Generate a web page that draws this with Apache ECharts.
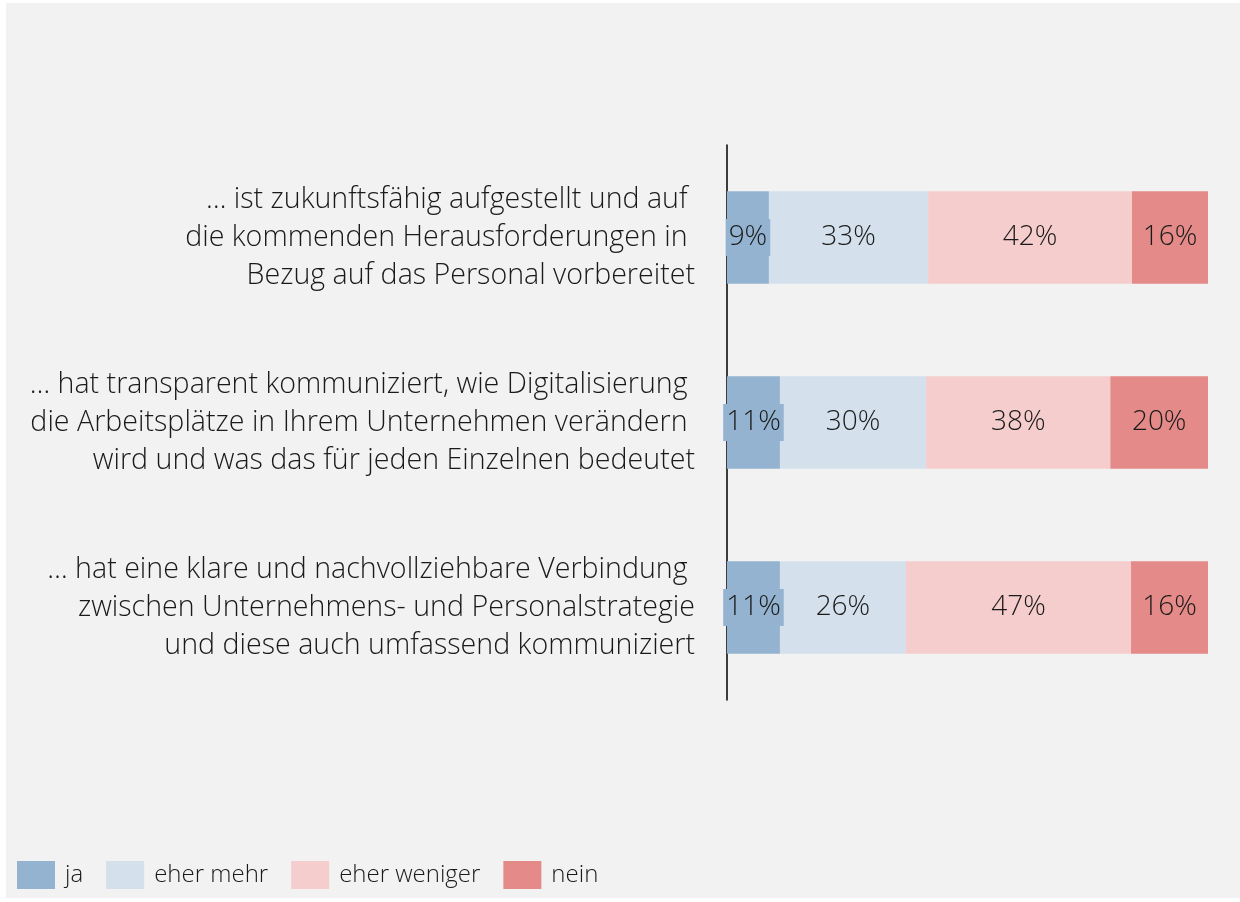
<!DOCTYPE html>
<html>
<head>
<meta charset="utf-8">
<script src="https://cdn.jsdelivr.net/npm/echarts@6/dist/echarts.min.js"></script>
<style>
  html, body { margin: 0; padding: 0; background: #fff; }
  #main { position: absolute; left: 6px; top: 3px; width: 1234px; height: 895px; }
</style>
</head>
<body>
<div id="main"></div>
<script>
// Aussagen (Kategorien)
var categories = [
  '… ist zukunftsfähig aufgestellt und auf \ndie kommenden Herausforderungen in \nBezug auf das Personal vorbereitet',
  '… hat transparent kommuniziert, wie Digitalisierung \ndie Arbeitsplätze in Ihrem Unternehmen verändern \nwird und was das für jeden Einzelnen bedeutet',
  '… hat eine klare und nachvollziehbare Verbindung \nzwischen Unternehmens- und Personalstrategie\nund diese auch umfassend kommuniziert'
];
// Anteile in % (aus dem Bild gelesen)
var ja = [8.7, 11.0, 11.0];
var eherMehr = [33.1, 30.4, 26.2];
var eherWeniger = [42.4, 38.3, 46.8];
var nein = [15.8, 20.3, 16.0];

var seriesNames = ['ja', 'eher mehr', 'eher weniger', 'nein'];
var seriesColors = ['#93b3d0', '#d4e0ec', '#f6cdcd', '#e48a88'];
var seriesData = [ja, eherMehr, eherWeniger, nein];

var fontFam = '"Open Sans", "Segoe UI", sans-serif';

var series = [];
for (var i = 0; i < seriesData.length; i++) {
  var lbl = {
    show: true,
    position: 'inside',
    fontFamily: fontFam,
    fontSize: 28,
    fontWeight: 300,
    color: '#1a1a1a',
    formatter: function (p) { return Math.round(p.value) + '%'; }
  };
  if (i === 0) {
    // ja-Label hat einen Hintergrund in Balkenfarbe
    lbl.backgroundColor = seriesColors[0];
    lbl.padding = [5, 3, 4, 3];
  }
  series.push({
    name: seriesNames[i],
    type: 'bar',
    stack: 'total',
    barWidth: '50%',
    data: seriesData[i],
    itemStyle: { color: seriesColors[i] },
    label: lbl,
    z: i === 0 ? 3 : 2
  });
}

var myChart = echarts.init(document.getElementById('main'));
myChart.setOption({
  backgroundColor: '#f2f2f2',
  animation: false,
  grid: { left: 721, right: 32, top: 142, bottom: 198, containLabel: false },
  legend: {
    left: 6,
    top: 853,
    itemWidth: 38,
    itemHeight: 28,
    itemGap: 23,
    icon: 'rect',
    textStyle: { fontFamily: fontFam, fontSize: 24, fontWeight: 300, color: '#1a1a1a', padding: [0, 0, 0, 5] },
    data: seriesNames
  },
  xAxis: {
    type: 'value',
    min: 0,
    max: 100,
    show: false
  },
  yAxis: {
    type: 'category',
    inverse: true,
    data: categories,
    axisLine: { show: true, lineStyle: { color: '#000', width: 1.5 } },
    axisTick: { show: false },
    axisLabel: {
      margin: 32,
      align: 'right',
      fontFamily: fontFam,
      fontSize: 28.6,
      fontWeight: 300,
      lineHeight: 38,
      padding: [7, 0, 0, 0],
      color: '#1a1a1a'
    }
  },
  series: series
});
</script>
</body>
</html>
